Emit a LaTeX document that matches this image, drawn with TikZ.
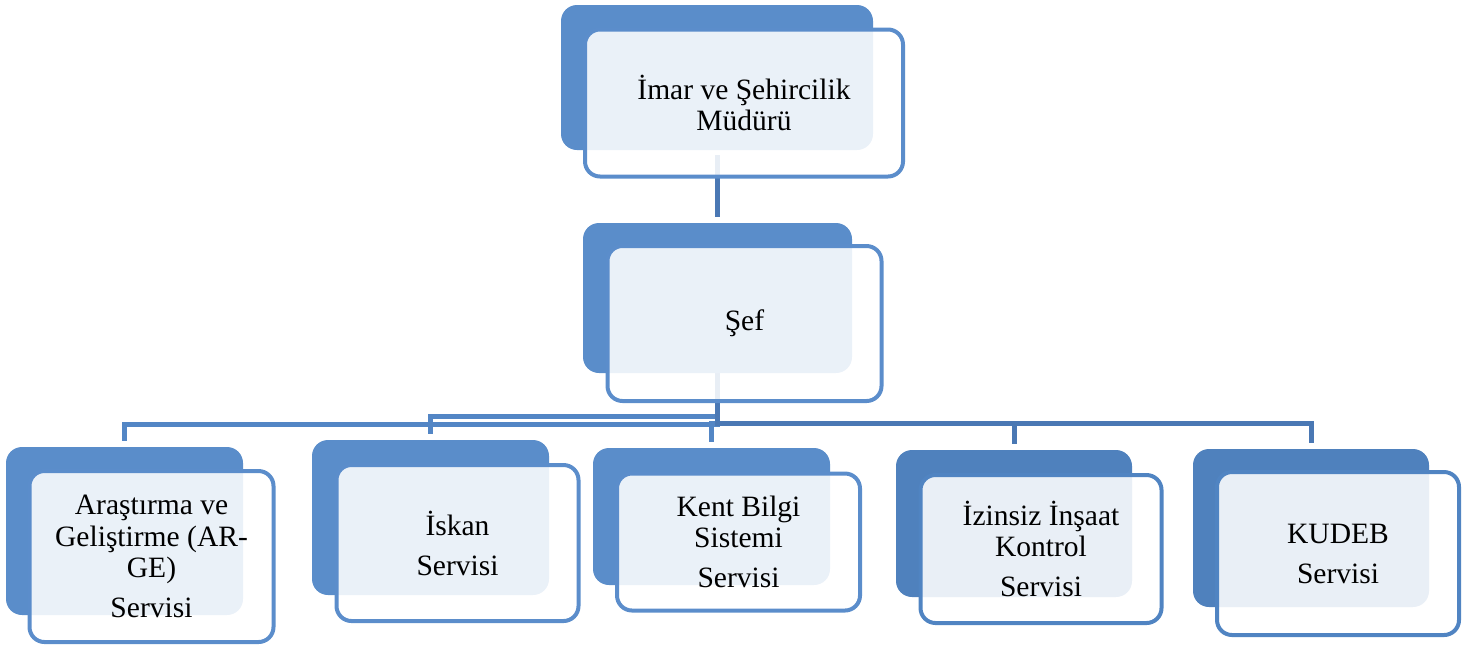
\documentclass[tikz,border=0pt]{standalone}
\usepackage{fontspec}
\setmainfont{Liberation Serif}
\usepackage{tikz}
\usetikzlibrary{shapes, positioning}

\definecolor{backblue}{HTML}{5A8DCA}
\definecolor{backdark}{HTML}{4F81BD}
\definecolor{frameblue}{HTML}{5B8DCB}
\definecolor{framedark}{HTML}{5084C2}
\definecolor{linkblue}{HTML}{5386C5}
\definecolor{linkdark}{HTML}{4A78B4}

\pgfdeclarelayer{background}
\pgfsetlayers{background,main}

\begin{document}
\begin{tikzpicture}

\tikzstyle{back} = [rectangle, rounded corners=0.32cm, inner sep=0pt, outer sep=0pt, fill=backblue, draw=none]
\tikzstyle{front} = [rectangle, rounded corners=0.3cm, inner sep=0pt, outer sep=0pt, draw=frameblue, line width=0.08cm, fill=white, fill opacity=0.88, text opacity=1, align=center, font=\fontsize{16.8}{17.8}\selectfont, xshift=0.54cm, yshift=-0.51cm]
\tikzstyle{link} = [line width=0.1cm, draw=linkblue, shorten >=0.13cm]

\useasboundingbox (0,0) rectangle (29.54,-12.92);

% base
\node (mudur_bg)[back, minimum width=6.24cm, minimum height=2.9cm] at (14.34,-1.55){};
\node (mudur)[front, minimum width=6.36cm, minimum height=2.94cm] at (mudur_bg){%
    İmar ve Şehircilik\\Müdürü};

% lvl 1
\node (sef_bg)[back, minimum width=5.38cm, minimum height=3cm] at (14.35,-5.96){};
\node (sef)[front, minimum width=5.48cm, minimum height=3.1cm] at (sef_bg){Şef};

% lvl 2
\node (arge_bg)[back, minimum width=4.74cm, minimum height=3.36cm] at (2.49,-10.62){};
\node (arge)[front, minimum width=4.88cm, minimum height=3.42cm] at (arge_bg){%
    Araştırma ve\\Geliştirme (AR-\\GE)\\[5pt]Servisi};

\node (iskan_bg)[back, minimum width=4.74cm, minimum height=3.1cm] at (8.61,-10.35){};
\node (iskan)[front, minimum width=4.84cm, minimum height=3.12cm] at (iskan_bg){%
    İskan\\[5pt]Servisi};

\node (kent_bg)[back, minimum width=4.74cm, minimum height=2.74cm] at (14.23,-10.33){};
\node (kent)[front, minimum width=4.86cm, minimum height=2.74cm] at (kent_bg){%
    Kent Bilgi\\Sistemi\\[5pt]Servisi};

\node (izin_bg)[back, fill=backdark, minimum width=4.72cm, minimum height=2.94cm] at (20.28,-10.47){};
\node (izin)[front, draw=framedark, minimum width=4.82cm, minimum height=2.96cm] at (izin_bg){%
    İzinsiz İnşaat\\Kontrol\\[5pt]Servisi};

\node (kudeb_bg)[back, fill=backdark, minimum width=4.72cm, minimum height=3.16cm] at (26.22,-10.56){};
\node (kudeb)[front, draw=framedark, minimum width=4.84cm, minimum height=3.26cm] at (kudeb_bg){%
    KUDEB\\[5pt]Servisi};

% links
\begin{pgfonlayer}{background}
\draw[link, draw=linkdark, shorten <=0.1cm] (mudur_bg.south) -- (mudur_bg.south |- sef_bg.north);

\draw[link] (sef_bg.south) -- ++(0,-1.02) -| (arge_bg.north);
\draw[link] (sef_bg.south) -- ++(0,-0.86) -| (iskan_bg.north);
\draw[link] (sef_bg.south) -- ++(0,-1.0) -| (kent_bg.north);
\draw[link, draw=linkdark] (sef_bg.south) -- ++(0,-1.0) -| (izin_bg.north);
\draw[link, draw=linkdark] (sef_bg.south) -- ++(0,-1.0) -| (kudeb_bg.north);
\end{pgfonlayer}

\end{tikzpicture}
\end{document}
